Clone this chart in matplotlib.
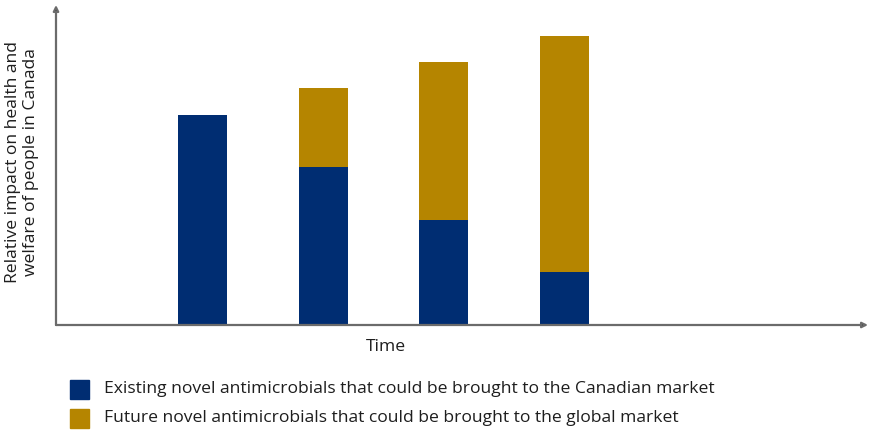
import matplotlib
matplotlib.use("Agg")
import matplotlib.pyplot as plt
from matplotlib.patches import Rectangle

# Data
periods = [1, 2, 3, 4]
existing_canadian = [8, 6, 4, 2]
future_global = [0, 3, 6, 9]
series_labels = [
    "Existing novel antimicrobials that could be brought to the Canadian market",
    "Future novel antimicrobials that could be brought to the global market",
]
x_label = "Time"
y_label = "Relative impact on health and\nwelfare of people in Canada"

BLUE = "#002D72"
GOLD = "#B58500"
AXIS = "#6b6b6b"
TEXT = "#1e1e1e"
FS = 12.6

plt.rcParams["font.family"] = ["Open Sans", "DejaVu Sans"]

W, H = 869, 430
fig = plt.figure(figsize=(W / 100, H / 100), dpi=100)
ax = fig.add_axes([56 / W, 105 / H, (868 - 56) / W, (325 - 5) / H])

ax.bar(periods, existing_canadian, width=0.407, color=BLUE, zorder=2)
ax.bar(periods, future_global, width=0.407, bottom=existing_canadian,
       color=GOLD, zorder=2)

ax.set_xlim(-0.216, 6.52)
ax.set_ylim(0, 12.17)
for s in ax.spines.values():
    s.set_visible(False)
ax.set_xticks([])
ax.set_yticks([])

# Axes with arrowheads
arrow = dict(arrowstyle="-|>", lw=1.6, mutation_scale=8, shrinkA=0,
             shrinkB=0, fc="black", ec=AXIS)
ax.annotate("", xy=(1, 0), xytext=(0, 0), xycoords="axes fraction",
            arrowprops=arrow, zorder=3)
ax.annotate("", xy=(0, 1), xytext=(0, 0), xycoords="axes fraction",
            arrowprops=arrow, zorder=3)

fig.text(386 / W, 1 - 347 / H, x_label, ha="center", va="center",
         fontsize=FS, color=TEXT)
fig.text(22 / W, 1 - 162 / H, y_label, ha="center", va="center",
         rotation=90, fontsize=FS, color=TEXT, linespacing=1.15)

# Legend
for i, (lab, col) in enumerate(zip(series_labels, [BLUE, GOLD])):
    yc = 389 + i * 29
    fig.patches.append(Rectangle((70 / W, 1 - (yc + 9.5) / H), 19 / W, 19 / H,
                                 transform=fig.transFigure, color=col))
    fig.text(104 / W, 1 - yc / H, lab, ha="left", va="center",
             fontsize=FS, color=TEXT)

fig.savefig("out.png", dpi=100)
